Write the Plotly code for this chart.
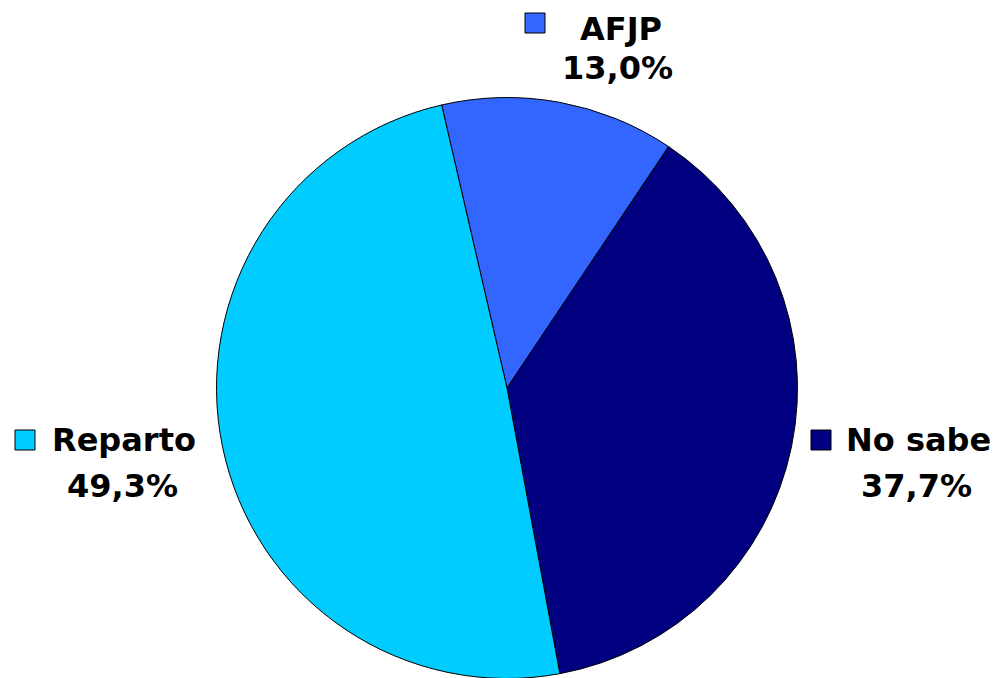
import plotly.graph_objects as go

# datos
labels = ["AFJP", "No sabe", "Reparto"]
values = [13.0, 37.7, 49.3]
colors = ["#3366FF", "#000080", "#00CCFF"]

W, H = 998, 678
OFF = 8  # margen del <body> de la página


def px(x, y):
    # pixel de la ventana -> coordenadas paper
    return (x - OFF) / W, 1 - (y - OFF) / H


fig = go.Figure()

# pie: centro (507, 388), radio ~290
fig.add_trace(go.Pie(
    labels=labels, values=values, sort=False,
    direction="clockwise", rotation=-13,
    marker=dict(colors=colors, line=dict(color="black", width=1)),
    textinfo="none", hoverinfo="label+percent",
    domain=dict(x=[0.2, 0.8], y=[px(0, 678.5)[1], px(0, 97.5)[1]]),
    showlegend=False,
))

# posiciones de las etiquetas (px): cuadro, nombre, porcentaje
label_pos = {
    "AFJP": dict(box=(525, 13), name=(621, 29), pct=(617, 68)),
    "Reparto": dict(box=(15, 430), name=(124, 440), pct=(122, 486)),
    "No sabe": dict(box=(811, 430), name=(918, 440), pct=(916, 486)),
}

font = dict(family="DejaVu Sans", size=32, color="black")
shapes = []
annotations = []
for lab, val, col in zip(labels, values, colors):
    p = label_pos[lab]
    bx, by = p["box"]
    x0, y0 = px(bx, by)
    x1, y1 = px(bx + 20, by + 20)
    shapes.append(dict(type="rect", xref="paper", yref="paper",
                       x0=x0, x1=x1, y0=y0, y1=y1,
                       fillcolor=col, line=dict(color="black", width=1)))
    pct = f"{val:.1f}".replace(".", ",") + "%"
    for txt, (tx, ty) in [(lab, p["name"]), (pct, p["pct"])]:
        ax, ay = px(tx, ty)
        annotations.append(dict(text=f"<b>{txt}</b>", x=ax, y=ay,
                                xref="paper", yref="paper",
                                xanchor="center", yanchor="middle",
                                showarrow=False, font=font))

fig.update_layout(
    width=W, height=H,
    margin=dict(l=0, r=0, t=0, b=0),
    paper_bgcolor="white", plot_bgcolor="white",
    shapes=shapes, annotations=annotations,
)

fig.write_html("out.html")
